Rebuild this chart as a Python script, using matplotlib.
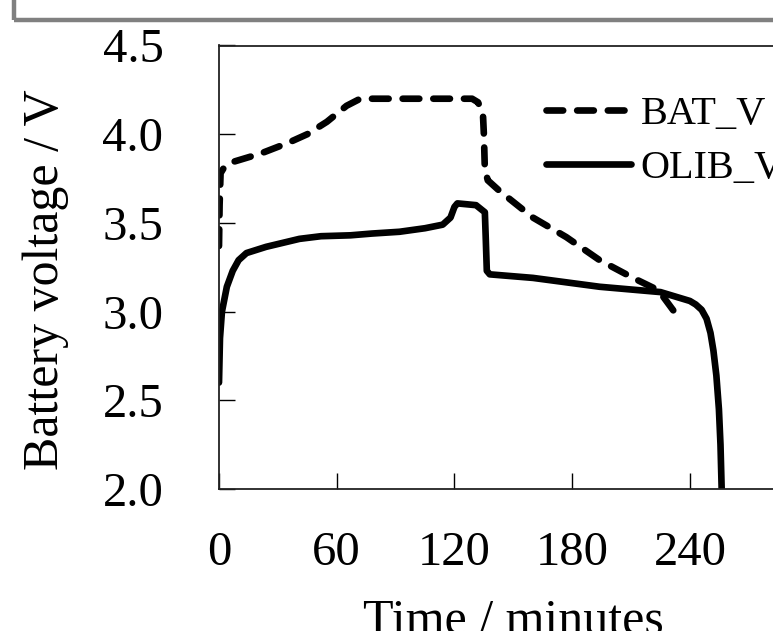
import matplotlib
matplotlib.use("Agg")
import matplotlib.pyplot as plt
from matplotlib.patches import Rectangle

# ---- data ----
bat_t = [0, 0.3, 0.8, 3, 6, 12, 21, 35, 45, 55, 65, 72, 100, 129, 132, 134.5,
         135, 135.5, 137, 143, 160, 177, 194, 211, 224, 232]
bat_v = [3.37, 3.60, 3.78, 3.82, 3.84, 3.86, 3.89, 3.95, 4.00, 4.07, 4.16, 4.20,
         4.20, 4.20, 4.18, 4.12, 4.00, 3.80, 3.74, 3.68, 3.53, 3.42, 3.29, 3.19,
         3.12, 3.00]

olib_t = [0, 0.5, 1.5, 4, 7, 10, 14, 24, 41, 52, 67, 78, 92, 105, 114, 118, 120,
          121.5, 131, 135.5, 136, 136.5, 138, 160, 194, 225, 240, 243, 246,
          248.5, 250.5, 252, 253.5, 254.8, 255.6, 256.2]
olib_v = [2.60, 2.85, 3.00, 3.14, 3.23, 3.29, 3.33, 3.365, 3.41, 3.425, 3.43,
          3.44, 3.45, 3.47, 3.49, 3.53, 3.59, 3.61, 3.60, 3.56, 3.40, 3.23, 3.21,
          3.19, 3.14, 3.11, 3.06, 3.04, 3.01, 2.96, 2.88, 2.78, 2.64, 2.45,
          2.25, 2.00]

x_ticks = [0, 60, 120, 180, 240, 300]
y_ticks = [2.0, 2.5, 3.0, 3.5, 4.0, 4.5]
labels = ["BAT_V", "OLIB_V"]

plt.rcParams['font.family'] = ['Liberation Serif', 'DejaVu Serif']

W, H = 773, 631
fig = plt.figure(figsize=(W / 100, H / 100), dpi=100)

# axes: left 219px, right 807.6px (beyond figure), top 45.5px, bottom 489px
ax = fig.add_axes([219 / W, 1 - 489 / H, (807.6 - 219) / W, (489 - 45.5) / H])

ax.plot(bat_t, bat_v, color='black', lw=4.8, linestyle=(0, (2.5, 2.1)),
        dash_capstyle='round', label=labels[0])
ax.plot(olib_t, olib_v, color='black', lw=4.8, solid_capstyle='round',
        solid_joinstyle='round', label=labels[1])

ax.set_xlim(0, 300)
ax.set_ylim(2.0, 4.5)
ax.set_xticks(x_ticks)
ax.set_yticks(y_ticks)
ax.set_yticklabels([f"{v:.1f}" for v in y_ticks])
ax.tick_params(direction='in', length=11.5, width=1.0, labelsize=35)
ax.tick_params(axis='x', pad=30)
ax.tick_params(axis='y', pad=40)
for s in ax.spines.values():
    s.set_linewidth(1.3)
    s.set_color('#222222')

ax.set_xlabel("Time / minutes", fontsize=36, labelpad=17)
fig.text(46 / W, 1 - 280 / H, "Battery voltage / V", rotation=90, fontsize=36,
         ha='center', va='center')

leg = ax.legend(loc='upper left', bbox_to_anchor=(546 / W, 1 - 96 / H),
                bbox_transform=fig.transFigure, frameon=False, fontsize=29,
                handlelength=2.1, handletextpad=0.25, labelspacing=0.42,
                borderpad=0, borderaxespad=0)

# gray frame at top
fig.patches.append(Rectangle((14 / W, 1 - 20 / H), 2, 1, transform=fig.transFigure,
                             fill=False, edgecolor='#808080', lw=3.2,
                             joinstyle='round', clip_on=False))

fig.savefig("out.png", dpi=100)
